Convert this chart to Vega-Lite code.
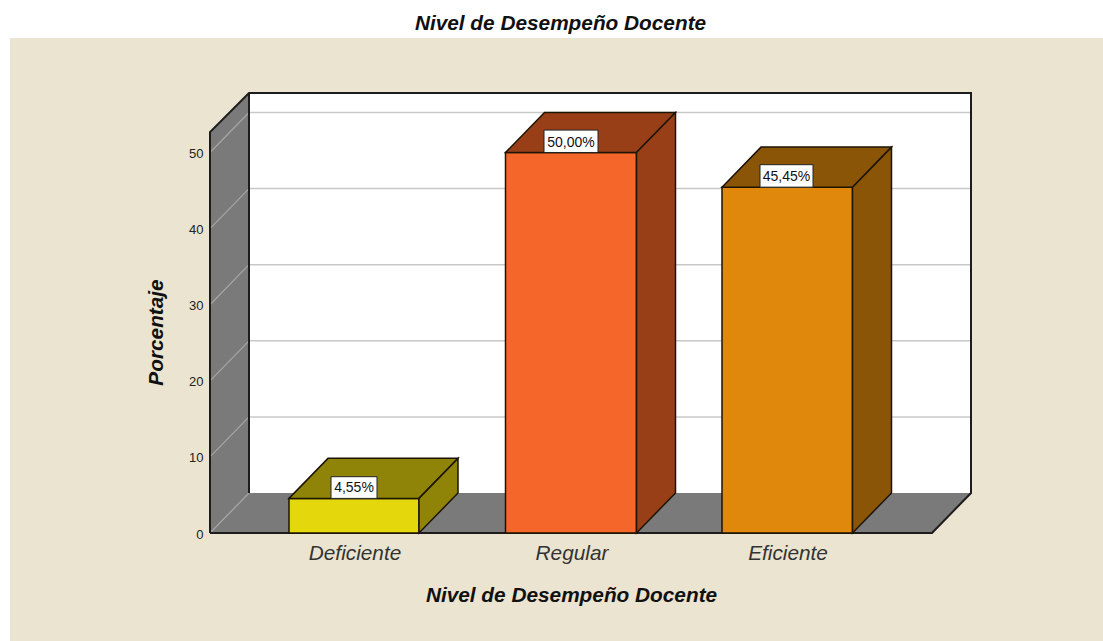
{
"$schema":"https://vega.github.io/schema/vega-lite/v6.json",
"width":1093,"height":603,
"autosize":{"type":"none"},
"padding":{"left":10,"top":38,"right":0,"bottom":0},
"background":"#ffffff",
"config":{"view":{"fill":"#ebe4d0","stroke":null},"font":"Liberation Sans"},
"title":{"text":"Nivel de Desempeño Docente","font":"Liberation Sans","fontSize":20.8,"fontStyle":"italic","fontWeight":"bold","color":"#111111","anchor":"middle","dx":4,"offset":3},
"datasets":{
"panels":[
{"part":"wall","x":210,"y":52.69,"y2":0},{"part":"wall","x":249,"y":57.82,"y2":5.26},
{"part":"back","x":249,"y":57.82,"y2":5.26},{"part":"back","x":971,"y":57.82,"y2":5.26},
{"part":"floor","x":210,"y":0,"y2":0},{"part":"floor","x":249,"y":5.26,"y2":0},{"part":"floor","x":932,"y":5.26,"y2":0},{"part":"floor","x":971,"y":5.26,"y2":5.26}
],
"gridBack":[
{"v":"10","x":249,"y":15.26},{"v":"10","x":971,"y":15.26},
{"v":"20","x":249,"y":25.26},{"v":"20","x":971,"y":25.26},
{"v":"30","x":249,"y":35.26},{"v":"30","x":971,"y":35.26},
{"v":"40","x":249,"y":45.26},{"v":"40","x":971,"y":45.26},
{"v":"50","x":249,"y":55.26},{"v":"50","x":971,"y":55.26}
],
"gridWall":[
{"v":"0","x":210,"y":0},{"v":"0","x":249,"y":5.26},
{"v":"10","x":210,"y":10},{"v":"10","x":249,"y":15.26},
{"v":"20","x":210,"y":20},{"v":"20","x":249,"y":25.26},
{"v":"30","x":210,"y":30},{"v":"30","x":249,"y":35.26},
{"v":"40","x":210,"y":40},{"v":"40","x":249,"y":45.26},
{"v":"50","x":210,"y":50},{"v":"50","x":249,"y":55.26}
],
"frame":[
{"s":"outer","i":0,"x":210,"y":0},{"s":"outer","i":1,"x":210,"y":52.69},{"s":"outer","i":2,"x":249,"y":57.82},{"s":"outer","i":3,"x":971,"y":57.82},{"s":"outer","i":4,"x":971,"y":5.26},{"s":"outer","i":5,"x":932,"y":0},{"s":"outer","i":6,"x":210,"y":0},
{"s":"corner","i":0,"x":249,"y":57.82},{"s":"corner","i":1,"x":249,"y":5.26}
],
"bars":[
{"part":"Deficiente front","x":289,"y":4.55,"y2":0},{"part":"Deficiente front","x":419,"y":4.55,"y2":0},
{"part":"Deficiente top","x":289,"y":4.55,"y2":4.55},{"part":"Deficiente top","x":328,"y":9.81,"y2":4.55},{"part":"Deficiente top","x":419,"y":9.81,"y2":4.55},{"part":"Deficiente top","x":458,"y":9.81,"y2":9.81},
{"part":"Deficiente side","x":419,"y":4.55,"y2":0},{"part":"Deficiente side","x":458,"y":9.81,"y2":5.26},
{"part":"Regular front","x":505.5,"y":50,"y2":0},{"part":"Regular front","x":636.5,"y":50,"y2":0},
{"part":"Regular top","x":505.5,"y":50,"y2":50},{"part":"Regular top","x":544.5,"y":55.26,"y2":50},{"part":"Regular top","x":636.5,"y":55.26,"y2":50},{"part":"Regular top","x":675.5,"y":55.26,"y2":55.26},
{"part":"Regular side","x":636.5,"y":50,"y2":0},{"part":"Regular side","x":675.5,"y":55.26,"y2":5.26},
{"part":"Eficiente front","x":722,"y":45.45,"y2":0},{"part":"Eficiente front","x":852.5,"y":45.45,"y2":0},
{"part":"Eficiente top","x":722,"y":45.45,"y2":45.45},{"part":"Eficiente top","x":761,"y":50.71,"y2":45.45},{"part":"Eficiente top","x":852.5,"y":50.71,"y2":45.45},{"part":"Eficiente top","x":891.5,"y":50.71,"y2":50.71},
{"part":"Eficiente side","x":852.5,"y":45.45,"y2":0},{"part":"Eficiente side","x":891.5,"y":50.71,"y2":5.26}
],
"labels":[
{"nivel":"Deficiente","label":"4,55%","x0":331,"x1":377,"xc":354,"y0":4.55,"y1":7.4,"yc":5.9},
{"nivel":"Regular","label":"50,00%","x0":544,"x1":598,"xc":571,"y0":50,"y1":52.95,"yc":51.3},
{"nivel":"Eficiente","label":"45,45%","x0":760,"x1":813,"xc":786.5,"y0":45.45,"y1":48.4,"yc":46.75}
]
},
"layer":[
{"data":{"name":"panels"},
 "mark":{"type":"area","stroke":null},
 "encoding":{
  "x":{"field":"x","type":"quantitative","scale":{"domain":[10,1103],"nice":false,"zero":false},
   "axis":{"values":[354.5,571.5,787.5],"labelExpr":"datum.value<400?'Deficiente':(datum.value<700?'Regular':'Eficiente')","title":"Nivel de Desempeño Docente","offset":-108,"domain":false,"ticks":false,"grid":false,"labelFontSize":20.8,"labelFontStyle":"italic","labelColor":"#333333","labelPadding":10,"labelFont":"Liberation Sans","labelOverlap":false,"titleFont":"Liberation Sans","titleFontSize":20.8,"titleFontStyle":"italic","titleFontWeight":"bold","titleColor":"#111111","titlePadding":23,"titleX":561}},
  "y":{"field":"y","type":"quantitative","stack":null,"scale":{"domain":[-14.19,65.05],"nice":false,"zero":false},
   "axis":{"values":[0,10,20,30,40,50],"title":"Porcentaje","offset":-200,"domain":false,"ticks":false,"grid":false,"labelFontSize":13,"labelColor":"#222222","labelPadding":7,"labelOffset":1,"labelFont":"Liberation Sans","titleFont":"Liberation Sans","titleFontSize":20.8,"titleFontStyle":"italic","titleFontWeight":"bold","titleColor":"#111111","titlePadding":22,"titleY":294}},
  "y2":{"field":"y2"},
  "color":{"field":"part","type":"nominal","legend":null,"scale":{"domain":["wall","back","floor","Deficiente front","Deficiente top","Deficiente side","Regular front","Regular top","Regular side","Eficiente front","Eficiente top","Eficiente side"],"range":["#7a7a7a","#ffffff","#7a7a7a","#e4d80c","#8f8408","#8f8408","#f4662a","#983f18","#983f18","#e0880c","#8a5506","#8a5506"]}}
 }},
{"data":{"name":"gridBack"},
 "mark":{"type":"line","color":"#c8c8c8","strokeWidth":1.5},
 "encoding":{"x":{"field":"x","type":"quantitative"},"y":{"field":"y","type":"quantitative"},"detail":{"field":"v"}}},
{"data":{"name":"gridWall"},
 "mark":{"type":"line","color":"#a6a6a6","strokeWidth":1.2},
 "encoding":{"x":{"field":"x","type":"quantitative"},"y":{"field":"y","type":"quantitative"},"detail":{"field":"v"}}},
{"data":{"name":"frame"},
 "mark":{"type":"line","color":"#1c1c1c","strokeWidth":2},
 "encoding":{"x":{"field":"x","type":"quantitative"},"y":{"field":"y","type":"quantitative"},"detail":{"field":"s"},"order":{"field":"i"}}},
{"data":{"name":"bars"},
 "mark":{"type":"area","stroke":"#1c1405","strokeWidth":1.5},
 "encoding":{
  "x":{"field":"x","type":"quantitative"},
  "y":{"field":"y","type":"quantitative","stack":null},
  "y2":{"field":"y2"},
  "color":{"field":"part","type":"nominal","legend":null}
 }},
{"data":{"name":"labels"},
 "mark":{"type":"rect","fill":"#ffffff","stroke":"#222222","strokeWidth":1},
 "encoding":{"x":{"field":"x0","type":"quantitative"},"x2":{"field":"x1"},"y":{"field":"y0","type":"quantitative"},"y2":{"field":"y1"}}},
{"data":{"name":"labels"},
 "mark":{"type":"text","font":"Liberation Sans","fontSize":14,"color":"#111111","baseline":"middle","align":"center"},
 "encoding":{"x":{"field":"xc","type":"quantitative"},"y":{"field":"yc","type":"quantitative"},"text":{"field":"label"}}}
]
}
